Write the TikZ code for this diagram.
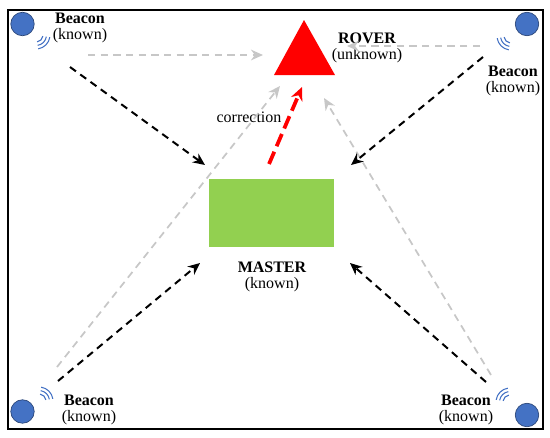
\documentclass[tikz,border=0pt]{standalone}
\usepackage{fontspec}
\setmainfont{Liberation Serif}
\usetikzlibrary{arrows.meta}
\definecolor{beaconblue}{HTML}{4472C4}
\definecolor{masterfill}{HTML}{92D050}
\tikzset{
  every node/.append style={align=center, inner sep=0pt, font=\fontsize{12}{14}\selectfont},
  beacon/.style={circle, draw=beaconblue!60!black, fill=beaconblue, line width=0.5pt, minimum size=17.6pt},
  wave/.style={beaconblue, line width=0.8pt},
  darrow/.style={line width=1.5pt, dash pattern=on 5.5pt off 4pt, -{Stealth[length=9pt,width=8pt]}},
  garrow/.style={darrow, black!22, line width=1.3pt},
  rarrow/.style={red, line width=2.8pt, dash pattern=on 10pt off 4.5pt, -{Stealth[length=10pt,width=9pt]}},
  bname/.style={font=\fontsize{12}{14}\selectfont\bfseries}
}
\begin{document}
\begin{tikzpicture}[x=0.75pt, y=-0.75pt]
  \useasboundingbox (0,0) rectangle (550,437);
  \draw[line width=1.5pt] (8,9.5) rectangle (542.5,429);

  % beacons
  \node[beacon] (beacontl) at (22.5,24) {};
  \node[beacon] (beacontr) at (527,24) {};
  \node[beacon] (beaconbl) at (22.5,411.5) {};
  \node[beacon] (beaconbr) at (527,415) {};
  \foreach \cx/\cy/\ang in {36/35/45, 511/36/135, 39/401/-45, 510/402/-135}
    \foreach \r in {7,10.5,14}
      \draw[wave] (\cx,\cy) ++(\ang-36:\r) arc[start angle=\ang-36, end angle=\ang+36, radius=\r];

  % rover and master
  \fill[red] (304,20) -- (335,75) -- (274,75) -- cycle;
  \node[fill=masterfill, minimum width=93.75pt, minimum height=51pt] (master) at (271.5,213) {};

  % labels
  \node[bname] (labeltl) at (80,18) {Beacon};
  \node (knowntl) at (80,36) {(known)};
  \node[bname] (labeltr) at (513,71) {Beacon};
  \node (knowntr) at (513,89) {(known)};
  \node[bname] (labelbl) at (89,400) {Beacon};
  \node (knownbl) at (89,418) {(known)};
  \node[bname] (labelbr) at (466,400) {Beacon};
  \node (knownbr) at (466,418) {(known)};
  \node[bname] (labelrover) at (367,38) {ROVER};
  \node (unknownrover) at (367,56) {(unknown)};
  \node[bname] (labelmaster) at (272,267) {MASTER};
  \node (knownmaster) at (272,285) {(known)};
  \node (correction) at (249,117) {correction};

  % arrow ends
  \coordinate (tlstart) at (70,67);
  \coordinate (tlend) at (205,165);
  \coordinate (trstart) at (483,57);
  \coordinate (trend) at (351,165);
  \coordinate (blstart) at (58,381);
  \coordinate (blend) at (200,263);
  \coordinate (brstart) at (486,382);
  \coordinate (brend) at (350,263);
  \coordinate (gtlstart) at (88,55);
  \coordinate (gtlend) at (263,55);
  \coordinate (gtrstart) at (480,46);
  \coordinate (gtrend) at (347,46);
  \coordinate (gblstart) at (57,367);
  \coordinate (gblend) at (280,86);
  \coordinate (gbrstart) at (491,375);
  \coordinate (gbrend) at (324,98);
  \coordinate (redstart) at (269,164);
  \coordinate (redend) at (302,87);

  \foreach \a/\b in {gtlstart/gtlend, gtrstart/gtrend, gblstart/gblend, gbrstart/gbrend}
    \draw[garrow] (\a) -- (\b);
  \foreach \a/\b in {tlstart/tlend, trstart/trend, blstart/blend, brstart/brend}
    \draw[darrow] (\a) -- (\b);
  \draw[rarrow] (redstart) -- (redend);
\end{tikzpicture}
\end{document}
